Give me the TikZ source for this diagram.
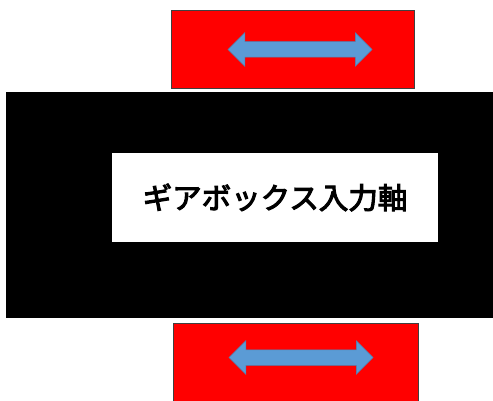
\documentclass[tikz,border=0pt]{standalone}
\usepackage{fontspec}
\newfontfamily\cjk{Noto Sans CJK JP}[FakeBold=3.5]
\usetikzlibrary{shapes.arrows}
\definecolor{redbox}{RGB}{255,0,0}
\definecolor{arrowblue}{RGB}{91,155,213}
\tikzset{
  redpad/.style={draw=black!75, line width=0.8pt, fill=redbox, minimum width=#1, inner sep=0pt},
  slide/.style={shape=double arrow, fill=arrowblue, draw=arrowblue!85!black, line width=0.5pt,
    minimum height=144pt, inner xsep=0pt, inner ysep=7.5pt, double arrow head extend=9pt},
}
\begin{document}
\begin{tikzpicture}[x=1pt,y=-1pt]
\useasboundingbox (0,0) rectangle (493,401);
\fill[white] (0,0) rectangle (493,401);
\node[redpad=243pt, minimum height=78pt] (top) at (292.5,49) {};
\node[fill=black, minimum width=488pt, minimum height=226pt, inner sep=0pt] (body) at (250,205) {};
\node[redpad=245pt, minimum height=82pt] (bot) at (295.5,364) {};
\node[fill=white, minimum width=326pt, minimum height=89pt, inner sep=0pt,
  font=\cjk\fontsize{29.5}{32}\selectfont] (shaft) at (275,197.5) {ギアボックス入力軸};
\node[slide] (a1) at (300,49.5) {};
\node[slide] (a2) at (301,357.5) {};
\end{tikzpicture}
\end{document}
